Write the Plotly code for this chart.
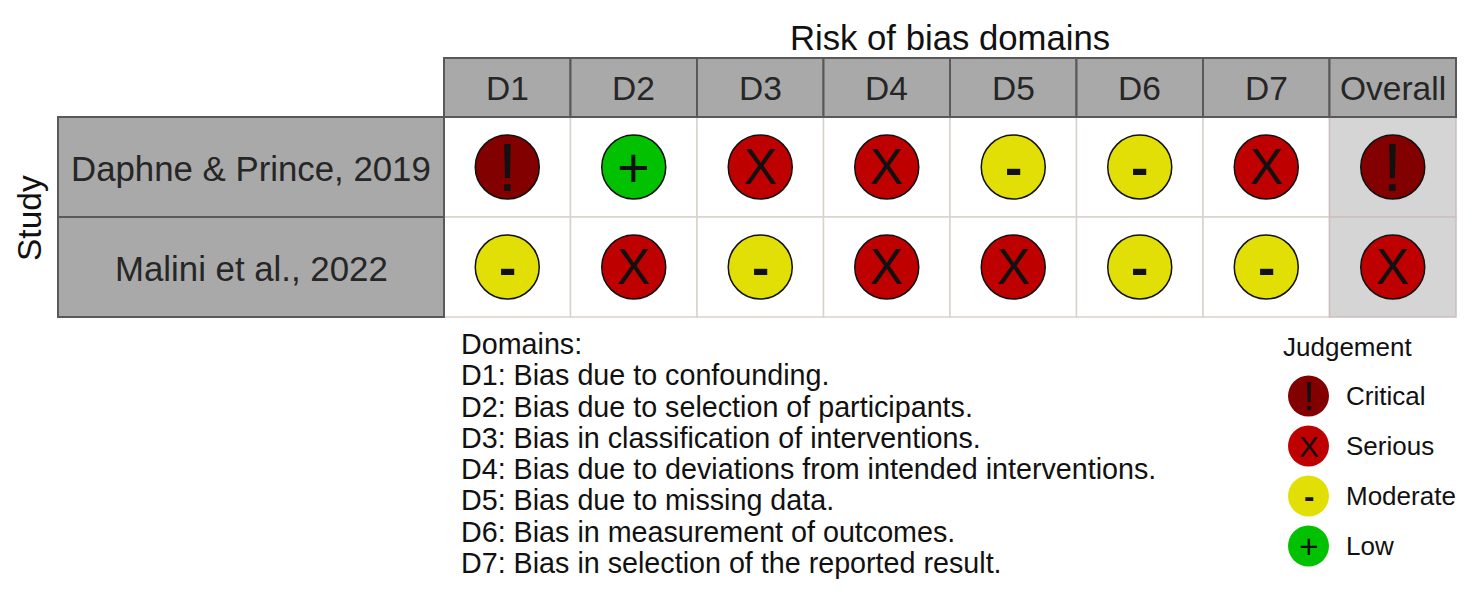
import plotly.graph_objects as go

W, H = 1472, 600

domains = ["D1", "D2", "D3", "D4", "D5", "D6", "D7", "Overall"]
studies = ["Daphne & Prince, 2019", "Malini et al., 2022"]
daphne = ["Critical", "Low", "Serious", "Serious", "Moderate", "Moderate", "Serious", "Critical"]
malini = ["Moderate", "Serious", "Moderate", "Serious", "Serious", "Moderate", "Moderate", "Serious"]
levels = ["Critical", "Serious", "Moderate", "Low"]
level_colors = ["#820000", "#BF0000", "#E2DF07", "#02C100"]
level_glyphs = ["!", "X", "-", "+"]
domain_notes = [
    "Domains:",
    "D1: Bias due to confounding.",
    "D2: Bias due to selection of participants.",
    "D3: Bias in classification of interventions.",
    "D4: Bias due to deviations from intended interventions.",
    "D5: Bias due to missing data.",
    "D6: Bias in measurement of outcomes.",
    "D7: Bias in selection of the reported result.",
]

FONT = "Liberation Sans"
TEXT = "#262626"
color_of = dict(zip(levels, level_colors))
glyph_of = dict(zip(levels, level_glyphs))
glyph_size = {"!": 68, "X": 50, "-": 52, "+": 56}


def px(x):
    return x / W


def py(y):
    return 1 - y / H


def rect(x0, y0, x1, y1, fill, line="#595959", width=2):
    return dict(type="rect", xref="paper", yref="paper", layer="below",
                x0=px(x0), x1=px(x1), y0=py(y0), y1=py(y1),
                fillcolor=fill, line=dict(color=line, width=width))


def label(x, y, text, size, anchor="center", color=TEXT, angle=0):
    return dict(xref="paper", yref="paper", x=px(x), y=py(y), text=text, showarrow=False,
                xanchor=anchor, yanchor="middle", textangle=angle,
                font=dict(family=FONT, size=size, color=color))


def glyph(x, y, text, scale, xref, yref):
    # the dash only reads right when it is heavy
    shown = "<b>-</b>" if text == "-" else text
    return dict(xref=xref, yref=yref, x=x, y=y, text=shown, showarrow=False,
                xanchor="center", yanchor="middle",
                font=dict(family=FONT, size=glyph_size[text] * scale, color="#111111"))


fig = go.Figure()
annotations = []

# grid of judgements
for study, row in zip(studies, [daphne, malini]):
    fig.add_trace(go.Scatter(
        x=domains,
        y=[study] * len(domains),
        mode="markers",
        marker=dict(size=64, color=[color_of[j] for j in row],
                    line=dict(color="#111111", width=1.5)),
        showlegend=False,
        cliponaxis=False,
        xaxis="x",
        yaxis="y",
    ))
    for d, j in zip(domains, row):
        annotations.append(glyph(d, study, glyph_of[j], 1, "x", "y"))

# judgement key
fig.add_trace(go.Scatter(
    x=["key"] * len(levels),
    y=levels,
    mode="markers",
    marker=dict(size=41, color=level_colors, line=dict(width=0)),
    showlegend=False,
    cliponaxis=False,
    xaxis="x2",
    yaxis="y2",
))
for lev, g in zip(levels, level_glyphs):
    annotations.append(glyph("key", lev, g, 0.6, "x2", "y2"))

GX0, GX1, GY0, GY1 = 444, 1456, 117, 317
col_w = (GX1 - GX0) / len(domains)
row_h = (GY1 - GY0) / len(studies)

shapes = []

# cell backgrounds
for r in range(len(studies)):
    for c in range(len(domains)):
        overall = domains[c] == "Overall"
        shapes.append(rect(GX0 + c * col_w, GY0 + r * row_h, GX0 + (c + 1) * col_w, GY0 + (r + 1) * row_h,
                           "#D5D5D5" if overall else "white",
                           line="#CDBFBF" if overall else "#D9D2CC", width=1.5))

# column headers
for c, d in enumerate(domains):
    shapes.append(rect(GX0 + c * col_w, 58, GX0 + (c + 1) * col_w, GY0, "#A9A9A9"))
    annotations.append(label(GX0 + (c + 0.5) * col_w, 88, d, 33.5))

# row headers
for r, s in enumerate(studies):
    shapes.append(rect(58, GY0 + r * row_h, GX0, GY0 + (r + 1) * row_h, "#A9A9A9"))
    annotations.append(label(251, GY0 + (r + 0.5) * row_h + 1, s, 34.8))

annotations.append(label(950, 38, "Risk of bias domains", 34.7, color="#111111"))
annotations.append(label(30, 218, "Study", 33.5, color="#111111", angle=-90))

for i, line in enumerate(domain_notes):
    annotations.append(label(459, 344 + i * 31.3, line, 28.7, anchor="left", color="#111111"))

annotations.append(label(1281, 347, "Judgement", 26, anchor="left", color="#111111"))
for i, lev in enumerate(levels):
    annotations.append(label(1344, 396 + i * 50, lev, 26, anchor="left", color="#111111"))

fig.update_layout(
    width=W,
    height=H,
    margin=dict(l=0, r=0, t=0, b=0),
    paper_bgcolor="white",
    plot_bgcolor="rgba(0,0,0,0)",
    shapes=shapes,
    annotations=annotations,
    xaxis=dict(domain=[px(GX0), px(GX1)], type="category", categoryorder="array", categoryarray=domains,
               range=[-0.5, len(domains) - 0.5], visible=False, anchor="y"),
    yaxis=dict(domain=[py(GY1), py(GY0)], type="category", categoryorder="array",
               categoryarray=studies[::-1], range=[-0.5, len(studies) - 0.5], visible=False, anchor="x"),
    xaxis2=dict(domain=[px(1288), px(1329)], type="category", range=[-0.5, 0.5], visible=False, anchor="y2"),
    yaxis2=dict(domain=[py(571), py(371)], type="category", categoryorder="array",
                categoryarray=levels[::-1], range=[-0.5, len(levels) - 0.5], visible=False, anchor="x2"),
)

# the page's default body margin would push everything 8px off
fig.write_html("out.html", config=dict(displayModeBar=False),
               post_script="document.body.style.margin='0';")
